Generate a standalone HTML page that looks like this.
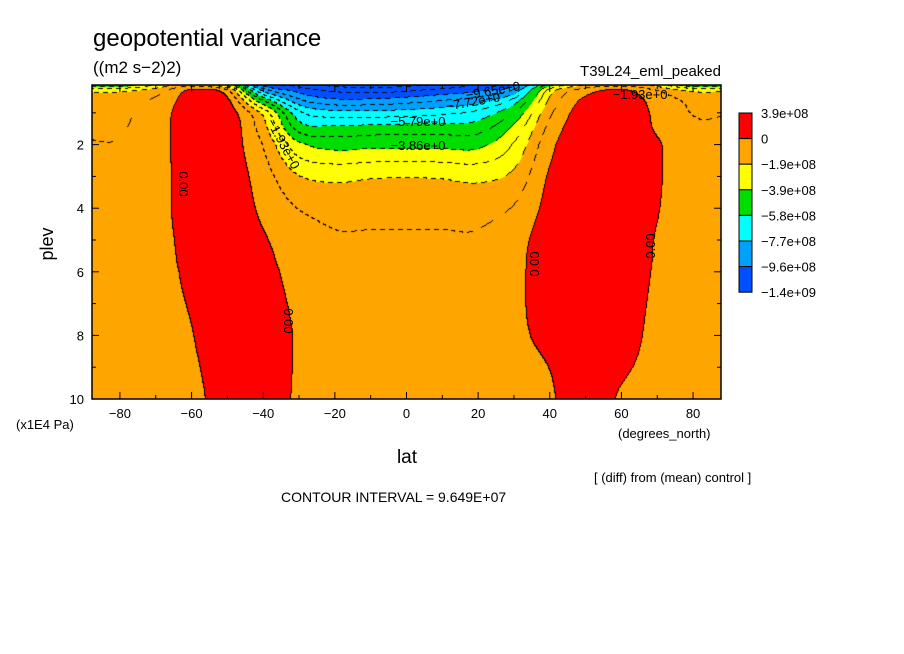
<!DOCTYPE html>
<html><head><meta charset="utf-8"><style>
body{margin:0;background:#fff;width:904px;height:654px;overflow:hidden;font-family:"Liberation Sans",sans-serif}
#wrap{position:relative;width:904px;height:654px}
canvas{position:absolute;left:92px;top:85px}
svg{position:absolute;left:0;top:0}
text{font-family:"Liberation Sans",sans-serif;fill:#000}
</style></head><body>
<div id="wrap">
<canvas id="cv" width="629" height="314"></canvas>
<svg id="sv" width="904" height="654"></svg>
</div>
<script>
// data (values in 1e8 (m2 s-2)2)
const lats=[-90,-80,-70,-60,-50,-40,-30,-20,-10,0,10,20,30,40,50,60,70,80,90];
const plevs=[0.1,0.3,0.6,1,1.5,2,3,4,5,6,8,10];
const colM90=[-5,-2.2,-1.5,-1.2,-1.05,-0.9,-0.6,-0.5,-0.45,-0.4,-0.4,-0.4];
const colM80=[-5,-2.2,-1.5,-1.2,-1.05,-0.9,-0.6,-0.5,-0.45,-0.4,-0.4,-0.4];
const colM70=[-3,-1.5,-0.8,-0.5,-0.4,-0.4,-0.4,-0.3,-0.3,-0.3,-0.3,-0.3];
const colM60=[-1.5,0.1,0.4,0.5,0.5,0.5,0.5,0.4,0.3,0.2,-0.05,-0.3];
const colM50=[-3.5,-0.8,0.2,0.5,0.6,0.5,0.6,0.7,0.8,0.9,0.9,0.5];
const colM40=[-10,-8,-5,-2.2,-1.5,-1.0,-0.5,-0.2,0.1,0.3,0.6,0.5];
const colM30=[-11,-10,-8.5,-6.5,-5.2,-3.6,-1.9,-1.0,-0.5,-0.3,-0.1,-0.1];
const colM20=[-12,-10.8,-9.5,-7.4,-5.5,-4.2,-2.2,-1.3,-0.85,-0.6,-0.35,-0.1];
const colM10=[-12.2,-11,-9.5,-7.4,-5.4,-4.1,-2.05,-1.3,-0.85,-0.6,-0.35,-0.05];
const col0=[-12,-10.8,-9.2,-7.3,-5.3,-4.1,-2.0,-1.3,-0.85,-0.6,-0.35,-0.1];
const colP10=[-11.5,-10.3,-8.8,-7.0,-5.3,-4.1,-2.05,-1.3,-0.85,-0.6,-0.35,-0.05];
const colP20=[-10.5,-9.8,-8.2,-6.5,-5.2,-4.1,-2.2,-1.3,-0.85,-0.6,-0.35,-0.1];
const colP30=[-10,-8.5,-6.5,-4.8,-3.6,-2.8,-1.7,-0.9,-0.4,-0.2,-0.1,-0.1];
const colP40=[-4.5,-2.5,-1.8,-1.2,-0.7,-0.3,0.1,0.3,0.5,0.4,0.15,-0.1];
const colP50=[-2,-0.5,0.2,0.5,0.7,0.8,0.8,0.8,0.8,0.8,0.7,0.6];
const colP60=[-1.5,0.1,0.6,0.7,0.7,0.7,0.7,0.7,0.6,0.6,0.5,-0.1];
const colP70=[-2.5,-1,-0.4,-0.2,-0.1,0.1,0.1,0.05,-0.05,-0.1,-0.3,-0.4];
const colP80=[-5,-2.2,-1.2,-1.0,-0.8,-0.6,-0.5,-0.45,-0.4,-0.4,-0.4,-0.4];
const colP90=[-5,-2.2,-1.2,-1.0,-0.8,-0.6,-0.5,-0.45,-0.4,-0.4,-0.4,-0.4];
const field=[colM90,colM80,colM70,colM60,colM50,colM40,colM30,colM20,colM10,col0,colP10,colP20,colP30,colP40,colP50,colP60,colP70,colP80,colP90];
const xTicks=[-80,-60,-40,-20,0,20,40,60,80];
const yTicks=[2,4,6,8,10];
const legendLabels=["3.9e+08","0","\u22121.9e+08","\u22123.9e+08","\u22125.8e+08","\u22127.7e+08","\u22129.6e+08","\u22121.4e+09"];
const ci=0.9649;

const X0=92,X1=721,Y0=85,Y1=399,LATMIN=-87.8,LATMAX=87.8,PMIN=0.125,PMAX=10;
const xs=l=>X0+(l-LATMIN)/(LATMAX-LATMIN)*(X1-X0);
const ys=p=>Y0+(p-PMIN)/(PMAX-PMIN)*(Y1-Y0);
const colors=["#0050ff","#00a0ff","#00ffff","#00dd00","#ffff00","#ffa500","#ff0000"];
function colorIdx(v){ if(v>0)return 6; if(v>-2*ci)return 5; if(v>-4*ci)return 4; if(v>-6*ci)return 3; if(v>-8*ci)return 2; if(v>-10*ci)return 1; return 0;}
function cr(p0,p1,p2,p3,t){return 0.5*((2*p1)+(-p0+p2)*t+(2*p0-5*p1+4*p2-p3)*t*t+(-p0+3*p1-3*p2+p3)*t*t*t);}
function seg(arr,v){let i=0;while(i<arr.length-2&&v>arr[i+1])i++;let t=(v-arr[i])/(arr[i+1]-arr[i]);return [i,Math.max(0,Math.min(1,t))];}
function col1(j,lat){
  const [i,t]=seg(lats,lat);const n=lats.length;
  const g=k=>field[Math.max(0,Math.min(n-1,k))][j];
  return cr(g(i-1),g(i),g(i+1),g(i+2),t);
}
function val(lat,p){
  const [j,t]=seg(plevs,p);const m=plevs.length;
  const g=k=>col1(Math.max(0,Math.min(m-1,k)),lat);
  return cr(g(j-1),g(j),g(j+1),g(j+2),t);
}
const cv=document.getElementById('cv'),ctx=cv.getContext('2d');
const W=cv.width,H=cv.height,img=ctx.createImageData(W,H);
const V=[];
for(let y=0;y<H;y++){V.push([]);for(let x=0;x<W;x++){
  const lat=LATMIN+(x+0.5)/W*(LATMAX-LATMIN),p=PMIN+(y+0.5)/H*(PMAX-PMIN);V[y].push(val(lat,p));}}
const hex=h=>[parseInt(h.substr(1,2),16),parseInt(h.substr(3,2),16),parseInt(h.substr(5,2),16)];
const cols=colors.map(hex);
for(let y=0;y<H;y++)for(let x=0;x<W;x++){
  const v=V[y][x];let c=cols[colorIdx(v)];
  const k=Math.floor(v/ci);
  let edge=false,solid=false;
  if(x+1<W){const k2=Math.floor(V[y][x+1]/ci);if(k2!==k){edge=true;if(Math.max(k,k2)===0)solid=true;}}
  if(y+1<H){const k2=Math.floor(V[y+1][x]/ci);if(k2!==k){edge=true;if(Math.max(k,k2)===0)solid=true;}}
  if(edge&&(solid||((x+y)%9)<5))c=[0,0,0];
  const o=(y*W+x)*4;img.data[o]=c[0];img.data[o+1]=c[1];img.data[o+2]=c[2];img.data[o+3]=255;
}
ctx.putImageData(img,0,0);

const NS="http://www.w3.org/2000/svg",sv=document.getElementById('sv');
function mk(tag,attrs,txt){const e=document.createElementNS(NS,tag);for(const k in attrs)e.setAttribute(k,attrs[k]);if(txt!==undefined)e.textContent=txt;sv.appendChild(e);return e;}
let e;
e=mk('rect',{x:X0,y:Y0,width:X1-X0,height:Y1-Y0,fill:'none',stroke:'#000','stroke-width':1.5});


for(let l=-80;l<=80;l+=10){
  e=mk('line',{x1:xs(l),x2:xs(l),y1:Y1,y2:Y1-(l%20===0?7:4),stroke:'#000'});
  
  
  e=mk('line',{x1:xs(l),x2:xs(l),y1:Y0,y2:Y0+(l%20===0?7:4),stroke:'#000'});
  
  
}
xTicks.forEach(l=>{
  e=mk('text',{x:xs(l),y:418,'text-anchor':'middle','font-size':13},l<0?'\u2212'+(-l):String(l));
  
  
});
for(let p=1;p<=10;p++){
  e=mk('line',{x1:X0,x2:X0+(p%2===0?7:4),y1:ys(p),y2:ys(p),stroke:'#000'});
  
  
  e=mk('line',{x1:X1,x2:X1-(p%2===0?7:4),y1:ys(p),y2:ys(p),stroke:'#000'});
  
  
}
yTicks.forEach(p=>{
  e=mk('text',{x:84,y:ys(p)+5,'text-anchor':'end','font-size':13},String(p));
  
  
});
// legend
const LX=739,LY=113,LH=25.6;
for(let i=0;i<7;i++){
  e=mk('rect',{x:LX,y:LY+i*LH,width:13,height:LH,fill:colors[6-i],stroke:'#000','stroke-width':1});
  
  
}
legendLabels.forEach((t,i)=>{
  e=mk('text',{x:761,y:LY+i*LH+5,'font-size':13},t);
  
  
});
// contour labels
const cl=[["\u22129.65e+0",493,95,-10],["\u22127.72e+0",473,106,-10],["\u22125.79e+0",418,126,0],["\u22123.86e+0",418,150,0],["\u22121.93e+0",640,99,0],["\u22121.93e+0",283,148,62],["0.00",183,188,90],["0.00",288,325,90],["0.00",535,268,-90],["0.00",651,250,-90]];
cl.forEach(c=>{
  e=mk('text',{x:c[1],y:c[2],'text-anchor':'middle','font-size':13,transform:`rotate(${c[3]} ${c[1]} ${c[2]-4})`},c[0]);
  
  
});
</script>
<svg width="904" height="654" style="position:absolute;left:0;top:0;pointer-events:none">
<text x="93" y="46" font-size="24">geopotential variance</text>
<text x="93" y="73" font-size="17">((m2 s−2)2)</text>
<text x="721" y="76" font-size="15" text-anchor="end">T39L24_eml_peaked</text>
<text x="53" y="244" font-size="18" text-anchor="middle" transform="rotate(-90 53 244)">plev</text>
<text x="16" y="429" font-size="13">(x1E4 Pa)</text>
<text x="618" y="438" font-size="13">(degrees_north)</text>
<text x="407" y="463" font-size="19" text-anchor="middle">lat</text>
<text x="594" y="482" font-size="13">[ (diff) from (mean) control ]</text>
<text x="281" y="502" font-size="14">CONTOUR INTERVAL = 9.649E+07</text>
</svg>
</body></html>
